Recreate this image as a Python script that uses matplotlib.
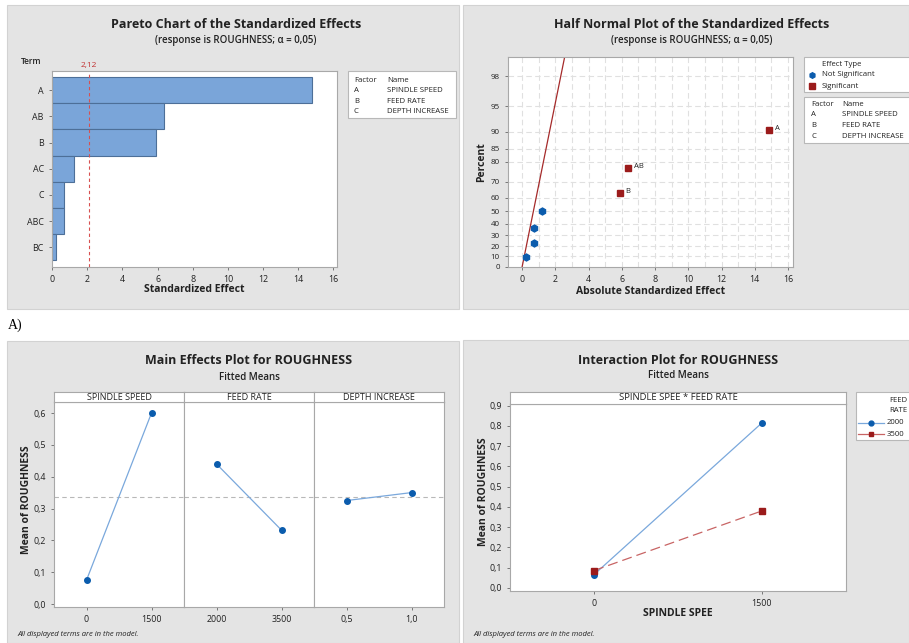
import numpy as np
import matplotlib
matplotlib.use('Agg')
import matplotlib.pyplot as plt
from matplotlib.patches import Rectangle
from matplotlib.lines import Line2D
from statistics import NormalDist

plt.rcParams['font.family'] = ['Open Sans', 'DejaVu Sans']

# ---- data ----
terms = ['A', 'AB', 'B', 'AC', 'C', 'ABC', 'BC']
effects = [14.8, 6.35, 5.9, 1.25, 0.7, 0.7, 0.25]
t_crit = 2.12

# half normal plot (sorted effects and their percents)
hn_effects = [0.25, 0.72, 0.72, 1.22, 5.88, 6.38, 14.87]
hn_percent = [9.46, 22.97, 36.49, 50.0, 63.51, 77.03, 90.54]
hn_signif = [False, False, False, False, True, True, True]
hn_labels = ['', '', '', '', 'B', 'AB', 'A']
hn_ticks = [0, 10, 20, 30, 40, 50, 60, 70, 80, 85, 90, 95, 98]

factors = ['A', 'B', 'C']
factor_names = ['SPINDLE SPEED', 'FEED RATE', 'DEPTH INCREASE']

# main effects
me_panels = ['SPINDLE SPEED', 'FEED RATE', 'DEPTH INCREASE']
me_levels = [['0', '1500'], ['2000', '3500'], ['0,5', '1,0']]
me_means = [[0.075, 0.60], [0.44, 0.232], [0.325, 0.35]]
grand_mean = 0.3375

# interaction
spindle_levels = ['0', '1500']
feed_2000 = [0.065, 0.815]
feed_3500 = [0.085, 0.38]

W, H = 909, 643
fig = plt.figure(figsize=(W / 100, H / 100), dpi=100)
fig.patch.set_facecolor('white')

BG = '#e4e4e4'
BLUE = '#0b5cad'
LBLUE = '#7aa8dc'
RED = '#9b1b1b'
TXT = '#222222'
LEG = 5.6


def fx(x):
    return x / W


def fy(y):
    return 1 - y / H


def px_axes(x0, y0, x1, y1):
    return fig.add_axes([x0 / W, 1 - y1 / H, (x1 - x0) / W, (y1 - y0) / H])


def panel(x0, y0, x1, y1):
    fig.patches.append(Rectangle((fx(x0), fy(y1)), (x1 - x0) / W, (y1 - y0) / H,
                                 transform=fig.transFigure, facecolor=BG,
                                 edgecolor='#d2d2d2', lw=0.8, zorder=-5))


def box(x0, y0, x1, y1):
    fig.patches.append(Rectangle((fx(x0), fy(y1)), (x1 - x0) / W, (y1 - y0) / H,
                                 transform=fig.transFigure, facecolor='white',
                                 edgecolor='#b8b8b8', lw=0.8, zorder=1))


def t(x, y, s, **kw):
    kw.setdefault('color', TXT)
    kw.setdefault('zorder', 3)
    fig.text(fx(x), fy(y), s, **kw)


def style_axes(ax):
    for sp in ax.spines.values():
        sp.set_color('#a8a8a8')
        sp.set_linewidth(0.8)
    ax.tick_params(labelsize=6.4, colors='#666666', labelcolor=TXT, length=2.5, width=0.6)


panel(7, 5, 459, 309)
panel(463, 5, 909, 309)
panel(7, 341, 459, 643)
panel(463, 340, 909, 643)
t(8, 325, 'A)', fontsize=10, family='Liberation Serif', color='black', va='center')

# ---- Pareto chart ----
t(236, 25, 'Pareto Chart of the Standardized Effects', fontsize=9, weight='bold', ha='center', va='center')
t(236, 41, '(response is ROUGHNESS; \u03b1 = 0,05)', fontsize=7, weight='semibold', ha='center', va='center')
ax1 = px_axes(52, 71, 337, 267)
style_axes(ax1)
ypos = np.arange(len(terms))
ax1.barh(ypos, effects, height=1.0, color='#7aa5d9', edgecolor='#4d6f98', lw=0.8)
ax1.axvline(t_crit, color='#d85050', ls=(0, (3, 2.5)), lw=0.8)
ax1.set_xlim(0, 16.2)
ax1.set_ylim(6.75, -0.73)
ax1.set_yticks(ypos)
ax1.set_yticklabels(terms)
ax1.set_xticks(np.arange(0, 17, 2))
ax1.text(t_crit, 1.01, '2,12', transform=ax1.get_xaxis_transform(), color='#c03030',
         fontsize=6, ha='center', va='bottom')
t(31, 62, 'Term', fontsize=6, weight='semibold', ha='center', va='center')
t(194, 290, 'Standardized Effect', fontsize=7.5, weight='bold', ha='center', va='center')
box(348, 71, 456, 118)
t(354, 80, 'Factor', fontsize=LEG, va='center')
t(387, 80, 'Name', fontsize=LEG, va='center')
for i, (f, n) in enumerate(zip(factors, factor_names)):
    t(354, 90.5 + i * 10.7, f, fontsize=LEG, va='center')
    t(387, 90.5 + i * 10.7, n, fontsize=LEG, va='center')

# ---- Half normal plot ----
nd = NormalDist()


def hn_fwd(p):
    p = np.clip(np.asarray(p, dtype=float), -99.99, 99.99)
    return np.vectorize(lambda v: nd.inv_cdf(0.5 + v / 200.0), otypes=[float])(p)


def hn_inv(q):
    q = np.asarray(q, dtype=float)
    return np.vectorize(lambda v: (2 * nd.cdf(v) - 1) * 100.0, otypes=[float])(q)


t(692, 25, 'Half Normal Plot of the Standardized Effects', fontsize=9, weight='bold', ha='center', va='center')
t(692, 41, '(response is ROUGHNESS; \u03b1 = 0,05)', fontsize=7, weight='semibold', ha='center', va='center')
ax2 = px_axes(508, 57, 793, 267)
style_axes(ax2)
ax2.set_yscale('function', functions=(hn_fwd, hn_inv))
ax2.set_ylim(-0.2, 98.95)
ax2.set_xlim(-0.85, 16.3)
ax2.set_yticks(hn_ticks)
ax2.set_yticklabels([str(v) for v in hn_ticks])
ax2.tick_params(axis='y', labelsize=5.8)
ax2.set_xticks(np.arange(0, 17, 2))
ax2.yaxis.set_minor_locator(matplotlib.ticker.NullLocator())
for gx in range(0, 17):
    ax2.axvline(gx, color='#e0e0e0', lw=0.8, ls=(0, (5, 3)), zorder=0)
for gy in hn_ticks[1:]:
    ax2.axhline(gy, color='#e0e0e0', lw=0.8, ls=(0, (5, 3)), zorder=0)
pl = np.linspace(0, 99.4, 200)
ax2.plot(hn_fwd(pl), pl, color='#a52a2a', lw=0.9, zorder=2)
for e, p, s, lab in zip(hn_effects, hn_percent, hn_signif, hn_labels):
    if s:
        ax2.plot(e, p, marker='s', ms=5, color=RED, zorder=3)
        ax2.annotate(lab, (e, p), xytext=(4, 1), textcoords='offset points',
                     fontsize=5.5, color=TXT, va='center')
    else:
        ax2.plot(e, p, marker='h', ms=5, color=BLUE, zorder=3)
t(482, 162, 'Percent', fontsize=7.5, weight='bold', rotation=90, ha='center', va='center')
t(651, 292, 'Absolute Standardized Effect', fontsize=7.5, weight='bold', ha='center', va='center')
box(804, 57, 915, 92)
t(822, 64.5, 'Effect Type', fontsize=LEG, va='center')
fig.lines.append(Line2D([fx(812)], [fy(75)], marker='h', ms=4, color=BLUE, transform=fig.transFigure, zorder=3))
t(822, 75, 'Not Significant', fontsize=LEG, va='center')
fig.lines.append(Line2D([fx(812)], [fy(86)], marker='s', ms=4, color=RED, transform=fig.transFigure, zorder=3))
t(822, 86, 'Significant', fontsize=LEG, va='center')
box(804, 97, 915, 143)
t(811, 104, 'Factor', fontsize=LEG, va='center')
t(842, 104, 'Name', fontsize=LEG, va='center')
for i, (f, n) in enumerate(zip(factors, factor_names)):
    t(811, 114.5 + i * 11, f, fontsize=LEG, va='center')
    t(842, 114.5 + i * 11, n, fontsize=LEG, va='center')

# ---- Main effects plot ----
t(249, 361, 'Main Effects Plot for ROUGHNESS', fontsize=9, weight='bold', ha='center', va='center')
t(249, 377, 'Fitted Means', fontsize=7, weight='semibold', ha='center', va='center')
edges = [54, 184, 314, 444]
for k in range(3):
    ax = px_axes(edges[k], 402, edges[k + 1], 607)
    style_axes(ax)
    ax.plot([0, 1], me_means[k], color=LBLUE, lw=0.9, marker='o', ms=4,
            mfc=BLUE, mec=BLUE)
    ax.axhline(grand_mean, color='#b8b8b8', ls=(0, (4, 3)), lw=0.8, zorder=0)
    ax.set_xlim(-0.5, 1.5)
    ax.set_ylim(-0.0094, 0.6346)
    ax.set_xticks([0, 1])
    ax.set_xticklabels(me_levels[k])
    ax.set_yticks(np.arange(0, 0.61, 0.1))
    if k == 0:
        ax.set_yticklabels([('%.1f' % v).replace('.', ',') for v in np.arange(0, 0.61, 0.1)])
    else:
        ax.tick_params(axis='y', left=False, labelleft=False)
    sax = px_axes(edges[k], 392, edges[k + 1], 402)
    sax.set_xticks([])
    sax.set_yticks([])
    for sp in sax.spines.values():
        sp.set_color('#a8a8a8')
        sp.set_linewidth(0.8)
    sax.text(0.5, 0.5, me_panels[k], ha='center', va='center', fontsize=6.5, color=TXT,
             transform=sax.transAxes)
t(27, 500, 'Mean of ROUGHNESS', fontsize=7.5, weight='bold', rotation=90, ha='center', va='center')
t(17, 635, 'All displayed terms are in the model.', fontsize=5.5, style='italic', va='center')

# ---- Interaction plot ----
t(678, 360, 'Interaction Plot for ROUGHNESS', fontsize=9, weight='bold', ha='center', va='center')
t(678, 376, 'Fitted Means', fontsize=7, weight='semibold', ha='center', va='center')
ax4 = px_axes(510, 404, 846, 591)
style_axes(ax4)
ax4.plot([0, 1], feed_2000, color=LBLUE, lw=0.9, marker='o', ms=4, mfc=BLUE, mec=BLUE)
ax4.plot([0, 1], feed_3500, color='#c86464', lw=0.9, ls=(0, (8, 4)), marker='s', ms=4,
         mfc=RED, mec=RED)
ax4.set_xlim(-0.5, 1.5)
ax4.set_ylim(-0.016, 0.908)
ax4.set_xticks([0, 1])
ax4.set_xticklabels(spindle_levels)
yt = np.arange(0, 0.91, 0.1)
ax4.set_yticks(yt)
ax4.set_yticklabels([('%.1f' % v).replace('.', ',') for v in yt])
sax = px_axes(510, 392, 846, 404)
sax.set_xticks([])
sax.set_yticks([])
for sp in sax.spines.values():
    sp.set_color('#a8a8a8')
    sp.set_linewidth(0.8)
sax.text(0.5, 0.5, 'SPINDLE SPEE * FEED RATE', ha='center', va='center', fontsize=6.8,
         color=TXT, transform=sax.transAxes)
t(483, 492, 'Mean of ROUGHNESS', fontsize=7.5, weight='bold', rotation=90, ha='center', va='center')
t(678, 614, 'SPINDLE SPEE', fontsize=7.5, weight='bold', ha='center', va='center')
t(473, 634, 'All displayed terms are in the model.', fontsize=5.5, style='italic', va='center')
box(856, 392, 915, 440)
t(907, 400, 'FEED', fontsize=LEG, ha='right', va='center')
t(907, 410, 'RATE', fontsize=LEG, ha='right', va='center')
fig.lines.append(Line2D([fx(858), fx(884)], [fy(423), fy(423)], color=LBLUE, lw=0.9,
                        transform=fig.transFigure, zorder=3))
fig.lines.append(Line2D([fx(871)], [fy(423)], marker='o', ms=3.5, color=BLUE,
                        transform=fig.transFigure, zorder=3))
t(887, 423, '2000', fontsize=LEG, va='center')
fig.lines.append(Line2D([fx(858), fx(884)], [fy(434), fy(434)], color='#c86464', lw=0.9,
                        transform=fig.transFigure, zorder=3))
fig.lines.append(Line2D([fx(871)], [fy(434)], marker='s', ms=3.5, color=RED,
                        transform=fig.transFigure, zorder=3))
t(887, 434, '3500', fontsize=LEG, va='center')

fig.savefig('out.png', dpi=100, facecolor='white')
